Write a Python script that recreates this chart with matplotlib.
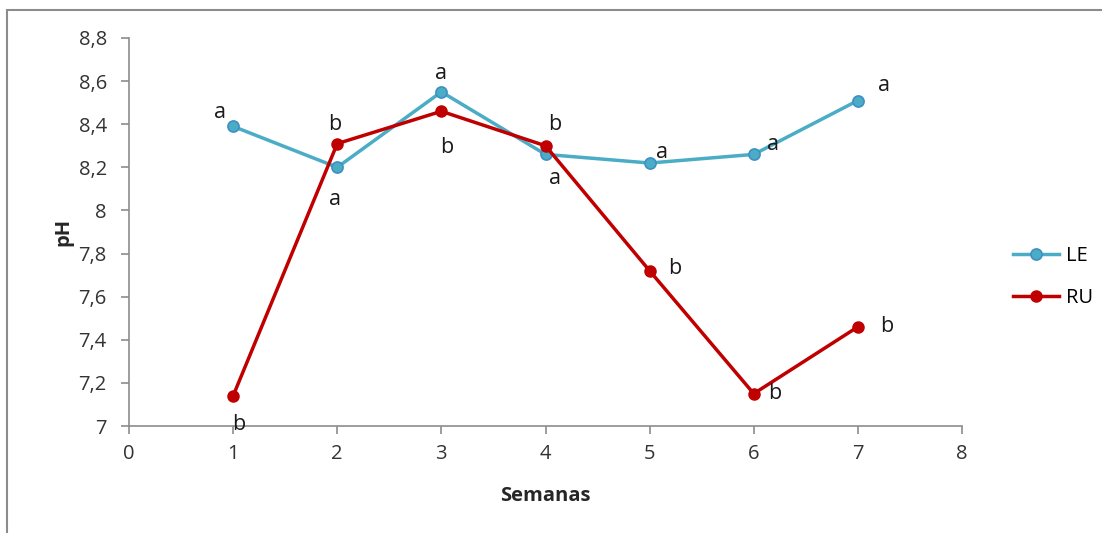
import matplotlib
matplotlib.use('Agg')
import matplotlib.pyplot as plt
from matplotlib.patches import Rectangle

plt.rcParams['font.family'] = ['Open Sans', 'DejaVu Sans']

# ── Data ───────────────────────────────────────────────────────────────────────
semanas = [1, 2, 3, 4, 5, 6, 7]
ph_le = [8.39, 8.20, 8.55, 8.26, 8.22, 8.26, 8.51]
ph_ru = [7.14, 8.31, 8.46, 8.30, 7.72, 7.15, 7.46]
letras_le = ['a', 'a', 'a', 'a', 'a', 'a', 'a']
letras_ru = ['b', 'b', 'b', 'b', 'b', 'b', 'b']
y_ticks = [7, 7.2, 7.4, 7.6, 7.8, 8, 8.2, 8.4, 8.6, 8.8]

# label offsets in pixels (relative to each point)
off_le = [(-13, 14), (-2, -32), (0, 18), (10, -24), (12, 11), (19, 10), (26, 15)]
off_ru = [(6, -29), (-3, 19), (5, -36), (9, 21), (25, 2), (21, 0), (29, 0)]

c_le = '#4BACC6'
c_ru = '#C00000'

fig = plt.figure(figsize=(11.02, 5.33), dpi=100)
fig.patches.append(Rectangle((7 / 1102, -0.01), 1.1, 1 - 10 / 533 + 0.01,
                             transform=fig.transFigure, fill=False,
                             edgecolor='#8c8c8c', linewidth=1.5))
ax = fig.add_axes([129 / 1102, 1 - 426 / 533, (962 - 129) / 1102, (426 - 38) / 533])

ax.plot(semanas, ph_le, color=c_le, linewidth=2.5, marker='o', markersize=8,
        markerfacecolor=c_le, markeredgecolor='#3f8fc4', markeredgewidth=1.2, label='LE')
ax.plot(semanas, ph_ru, color=c_ru, linewidth=2.5, marker='o', markersize=8,
        markerfacecolor=c_ru, markeredgecolor=c_ru, label='RU')

for x, y, t, o in zip(semanas, ph_le, letras_le, off_le):
    ax.annotate(t, (x, y), xytext=o, textcoords='offset pixels',
                ha='center', va='center', fontsize=15.5, color='#1a1a1a')
for x, y, t, o in zip(semanas, ph_ru, letras_ru, off_ru):
    ax.annotate(t, (x, y), xytext=o, textcoords='offset pixels',
                ha='center', va='center', fontsize=15.5, color='#1a1a1a')

ax.set_xlim(0, 8)
ax.set_ylim(7, 8.8)
ax.set_xticks(range(0, 9))
ax.set_yticks(y_ticks)
ax.set_yticklabels([f'{v:g}'.replace('.', ',') for v in y_ticks])

for s in ['top', 'right']:
    ax.spines[s].set_visible(False)
for s in ['left', 'bottom']:
    ax.spines[s].set_color('#8c8c8c')
    ax.spines[s].set_linewidth(1.2)
ax.tick_params(axis='both', direction='out', length=6, width=1.2, color='#8c8c8c',
               labelsize=14.5, labelcolor='#333333')
ax.tick_params(axis='y', pad=10)
ax.tick_params(axis='x', pad=7)

ax.set_xlabel('Semanas', fontsize=14.5, fontweight='bold', color='#262626', labelpad=16)
ax.set_ylabel('pH', fontsize=14.5, fontweight='bold', color='#262626', labelpad=4)

fig.legend(loc='center left', bbox_to_anchor=(995 / 1102, 1 - 277 / 533), frameon=False,
           fontsize=14.5, handlelength=2.3, labelspacing=1.1, handletextpad=0.35)

fig.savefig('out.png', dpi=100)
